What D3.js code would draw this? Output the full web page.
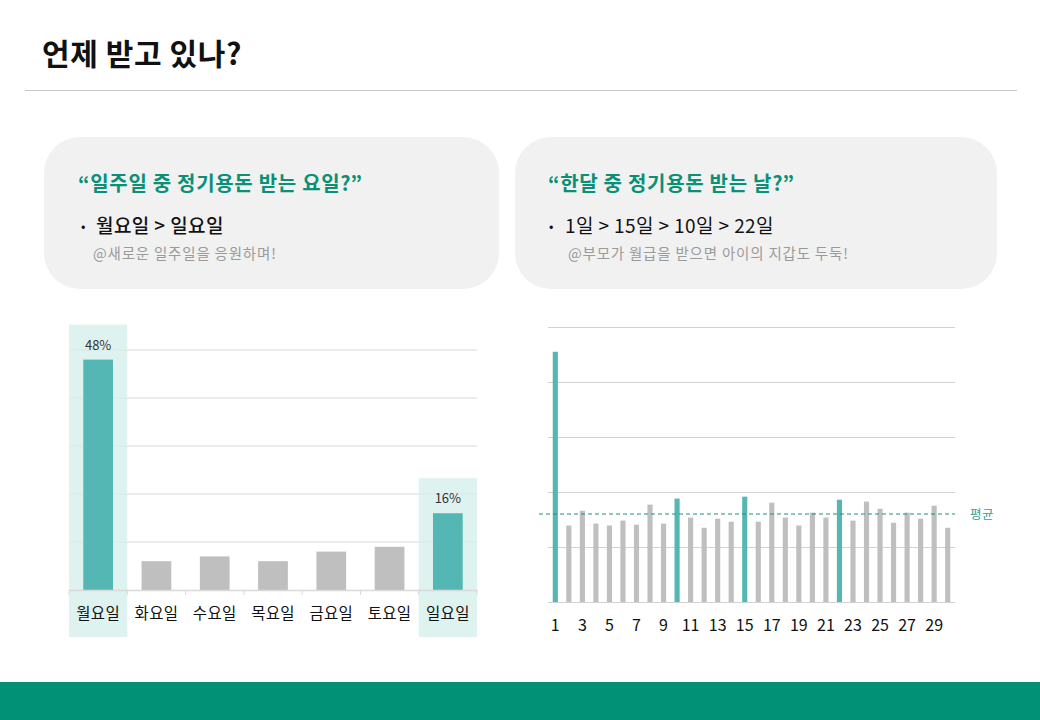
<!DOCTYPE html>
<html><head><meta charset="utf-8">
<script src="https://cdn.jsdelivr.net/npm/d3@7/dist/d3.min.js"></script>
<style>
html,body{margin:0;padding:0;background:#fff;}
svg{display:block;font-family:"Noto Sans CJK KR","Noto Sans",sans-serif;}
</style></head>
<body>
<svg id="c" width="1040" height="720"></svg>
<script>
// ---- data ----
const weekdays = ["월요일","화요일","수요일","목요일","금요일","토요일","일요일"];
const weekdayValues = [48, 6, 7, 6, 8, 9, 16];
const weekdayHighlight = ["월요일","일요일"];
const weekdayTicks = [0, 10, 20, 30, 40, 50];

const days = [1,2,3,4,5,6,7,8,9,10,11,12,13,14,15,16,17,18,19,20,21,22,23,24,25,26,27,28,29,30];
const dayValues = [9.1,2.78,3.32,2.85,2.78,2.96,2.81,3.54,2.85,3.76,3.07,2.7,3.03,2.92,3.83,2.92,3.61,3.07,2.78,3.25,3.07,3.72,2.96,3.65,3.39,2.88,3.25,3.03,3.5,2.7];
const dayHighlight = [1, 10, 15, 22];
const dayTicks = [0, 2, 4, 6, 8, 10];
const dayLabels = [1,3,5,7,9,11,13,15,17,19,21,23,25,27,29];
const dayAverage = 3.2;

const title = "언제 받고 있나?";
const cards = [
  {head:"“일주일 중 정기용돈 받는 요일?”", bullet:"월요일 > 일요일", note:"@새로운 일주일을 응원하며!"},
  {head:"“한달 중 정기용돈 받는 날?”", bullet:"1일 > 15일 > 10일 > 22일", note:"@부모가 월급을 받으면 아이의 지갑도 두둑!"}
];

const TEAL = "#55b7b4", GRAY = "#bfbfbf", GREEN = "#0a9076";
const svg = d3.select("#c");

// ---- title & header ----
svg.append("text").attr("x",42).attr("y",65).attr("font-size",30).attr("font-weight",700)
  .attr("fill","#111").attr("letter-spacing","0.6").text(title);
svg.append("line").attr("x1",25).attr("x2",1017).attr("y1",90.5).attr("y2",90.5)
  .attr("stroke","#c8c8c8").attr("stroke-width",1);

// ---- cards ----
const cardPos = [{x:44,w:455,tx:78,bx:81,btx:96,nx:93,bw:500},{x:515,w:482,tx:548,bx:549,btx:565,nx:568,bw:400}];
cards.forEach((c,i)=>{
  const p = cardPos[i];
  svg.append("rect").attr("x",p.x).attr("y",137).attr("width",p.w).attr("height",152)
    .attr("rx",36).attr("fill","#f1f1f1");
  svg.append("text").attr("x",p.tx).attr("y",191).attr("font-size",20).attr("font-weight",700)
    .attr("letter-spacing","0.7").attr("fill",GREEN).text(c.head);
  svg.append("text").attr("x",p.bx).attr("y",231).attr("font-size",13).attr("fill","#111").text("•");
  svg.append("text").attr("x",p.btx).attr("y",233).attr("font-size",19).attr("fill","#111")
    .attr("letter-spacing","0.4").attr("font-weight", p.bw).text(c.bullet);
  svg.append("text").attr("x",p.nx).attr("y",259).attr("font-size",14.5).attr("fill","#9a9a9a")
    .attr("letter-spacing","0.8").text(c.note);
});

// ---- left chart ----
const xL = d3.scaleBand().domain(weekdays).range([69,477]).paddingInner(0).paddingOuter(0);
const yL = d3.scaleLinear().domain([0,50]).range([590,350]);

const gL = svg.append("g");
gL.selectAll("line.grid").data(weekdayTicks.filter(t=>t>0)).join("line")
  .attr("x1",69).attr("x2",477).attr("y1",d=>yL(d)).attr("y2",d=>yL(d))
  .attr("stroke","#e6e6e6").attr("stroke-width",1.5);
// highlight bands
gL.selectAll("rect.band").data(weekdays.map((d,i)=>({d,v:weekdayValues[i]})).filter(o=>weekdayHighlight.includes(o.d))).join("rect")
  .attr("x",o=>xL(o.d)).attr("width",xL.bandwidth())
  .attr("y",o=>yL(o.v)-35).attr("height",o=>637-(yL(o.v)-35))
  .attr("fill","#d6efec").attr("opacity",0.8);
// bars
const bwL = xL.bandwidth()*0.51;
gL.selectAll("rect.bar").data(weekdays.map((d,i)=>({d,v:weekdayValues[i]}))).join("rect")
  .attr("x",o=>xL(o.d)+(xL.bandwidth()-bwL)/2).attr("width",bwL)
  .attr("y",o=>yL(o.v)).attr("height",o=>yL(0)-yL(o.v))
  .attr("fill",o=>weekdayHighlight.includes(o.d)?TEAL:GRAY);
// value labels
gL.selectAll("text.val").data(weekdays.map((d,i)=>({d,v:weekdayValues[i]})).filter(o=>weekdayHighlight.includes(o.d))).join("text")
  .attr("x",o=>xL(o.d)+xL.bandwidth()/2).attr("y",o=>yL(o.v)-10)
  .attr("text-anchor","middle").attr("font-size",13).attr("fill","#333").text(o=>o.v+"%");
// axis
const axL = d3.axisBottom(xL).tickSize(0).tickPadding(0);
const axG = gL.append("g").attr("transform","translate(0,590)").call(axL);
axG.select(".domain").attr("stroke","#d9d9d9").attr("stroke-width",1.5);
axG.selectAll(".tick text").attr("font-size",15.5).attr("fill","#111").attr("dy",0).attr("y",29)
  .attr("letter-spacing","0.3").attr("font-family","'Noto Sans CJK KR',sans-serif");
// boundary ticks
gL.selectAll("line.bt").data(d3.range(weekdays.length+1)).join("line")
  .attr("x1",i=>69+i*xL.step()).attr("x2",i=>69+i*xL.step()).attr("y1",590).attr("y2",595)
  .attr("stroke","#d9d9d9").attr("stroke-width",1);

// ---- right chart ----
const xR = d3.scaleBand().domain(days).range([548,955]).paddingInner(0.62).paddingOuter(0.35);
const yR = d3.scaleLinear().domain([0,10]).range([602,327]);
const gR = svg.append("g");
gR.selectAll("line.grid").data(dayTicks).join("line")
  .attr("x1",548).attr("x2",955).attr("y1",d=>Math.round(yR(d))+0.5).attr("y2",d=>Math.round(yR(d))+0.5)
  .attr("stroke","#d2d2d2").attr("stroke-width",1);
gR.selectAll("rect.bar").data(days.map((d,i)=>({d,v:dayValues[i]}))).join("rect")
  .attr("x",o=>xR(o.d)).attr("width",xR.bandwidth())
  .attr("y",o=>yR(o.v)).attr("height",o=>yR(0)-yR(o.v))
  .attr("fill",o=>dayHighlight.includes(o.d)?TEAL:GRAY);
// average line
gR.append("line").attr("x1",539).attr("x2",955).attr("y1",yR(dayAverage)).attr("y2",yR(dayAverage))
  .attr("stroke","#1a8f86").attr("stroke-width",1.2).attr("stroke-dasharray","4,3");
gR.append("text").attr("x",970).attr("y",yR(dayAverage)+4.5).attr("font-size",12.5).attr("fill","#2aa39a")
  .attr("letter-spacing","0.5").text("평균");
// x labels
const axR = d3.axisBottom(xR).tickValues(dayLabels).tickSize(0).tickPadding(0);
const axRG = gR.append("g").attr("transform","translate(0,602)").call(axR);
axRG.select(".domain").remove();
axRG.selectAll(".tick text").attr("font-size",16).attr("fill","#111").attr("dy",0).attr("y",29)
  .attr("font-family","'Noto Sans CJK KR',sans-serif");

// ---- footer ----
svg.append("rect").attr("x",0).attr("y",682).attr("width",1040).attr("height",38).attr("fill","#009176");
</script>
</body></html>
